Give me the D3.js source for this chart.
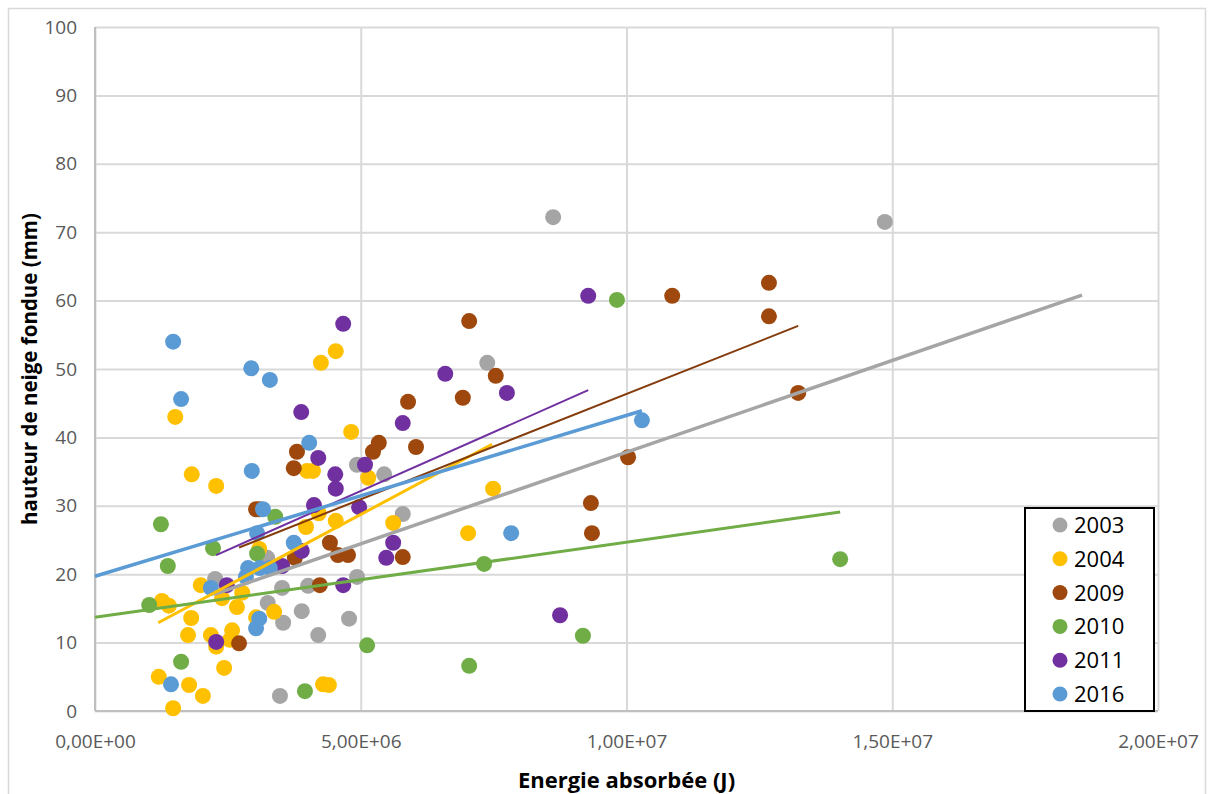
<!DOCTYPE html>
<html>
<head>
<meta charset="utf-8">
<script src="https://cdn.jsdelivr.net/npm/d3@7"></script>
<style>
  body { margin: 0; background: #fff; }
  text { font-family: "Open Sans", "Noto Sans", sans-serif; }
</style>
</head>
<body>
<div id="chart"></div>
<script>
// series names and colours (legend order)
var years = ["2003", "2004", "2009", "2010", "2011", "2016"];
var colors = ["#a5a5a5", "#ffc000", "#9e480e", "#70ad47", "#7030a0", "#5b9bd5"];
var lineColors = ["#a5a5a5", "#ffc000", "#843c0c", "#70ad47", "#7030a0", "#5b9bd5"];

// energie absorbee (J) / hauteur de neige fondue (mm)
var x2003 = [8.62e6, 14.86e6, 7.38e6, 4.93e6, 5.44e6, 5.79e6, 3.24e6, 2.26e6, 4.93e6, 3.52e6, 4.01e6, 3.25e6, 3.89e6, 4.78e6, 3.54e6, 4.20e6, 3.48e6];
var y2003 = [72.2, 71.5, 50.9, 36.0, 34.6, 28.8, 22.4, 19.3, 19.6, 18.0, 18.3, 15.8, 14.6, 13.5, 12.9, 11.1, 2.2];

var x2004 = [1.51e6, 1.82e6, 2.28e6, 4.25e6, 4.53e6, 4.82e6, 3.99e6, 4.10e6, 5.14e6, 4.21e6, 3.97e6, 4.53e6, 3.09e6, 1.99e6, 2.39e6, 2.77e6, 1.26e6, 1.39e6, 1.81e6, 2.67e6, 1.75e6, 2.18e6, 2.58e6, 2.54e6, 2.28e6, 2.43e6, 1.20e6, 1.77e6, 2.03e6, 1.47e6, 3.03e6, 3.37e6, 4.29e6, 4.40e6, 5.61e6, 7.02e6, 7.49e6];
var y2004 = [43.0, 34.6, 32.9, 50.9, 52.6, 40.8, 35.1, 35.1, 34.1, 28.9, 26.9, 27.8, 23.7, 18.4, 16.5, 17.3, 16.1, 15.4, 13.6, 15.2, 11.1, 11.1, 11.8, 10.4, 9.4, 6.3, 5.0, 3.8, 2.2, 0.4, 13.7, 14.5, 3.9, 3.8, 27.5, 26.0, 32.5];

var x2009 = [7.04e6, 6.92e6, 5.89e6, 6.04e6, 5.23e6, 5.34e6, 3.80e6, 3.74e6, 7.54e6, 3.03e6, 3.10e6, 4.42e6, 3.76e6, 4.57e6, 4.76e6, 4.23e6, 5.79e6, 2.71e6, 9.33e6, 9.35e6, 10.03e6, 10.86e6, 12.68e6, 12.68e6, 13.23e6];
var y2009 = [57.0, 45.8, 45.2, 38.6, 37.9, 39.2, 37.9, 35.5, 49.0, 29.5, 29.5, 24.6, 22.4, 22.8, 22.8, 18.4, 22.5, 9.9, 30.4, 26.0, 37.1, 60.7, 62.6, 57.7, 46.5];

var x2010 = [1.24e6, 2.22e6, 1.37e6, 1.02e6, 1.62e6, 3.05e6, 3.39e6, 3.95e6, 5.12e6, 7.04e6, 7.32e6, 9.18e6, 9.82e6, 14.02e6];
var y2010 = [27.3, 23.8, 21.2, 15.5, 7.2, 23.0, 28.4, 2.9, 9.6, 6.6, 21.5, 11.0, 60.1, 22.2];

var x2011 = [4.67e6, 3.88e6, 4.20e6, 4.52e6, 4.53e6, 4.12e6, 4.97e6, 5.08e6, 3.89e6, 3.52e6, 4.67e6, 2.48e6, 2.28e6, 5.79e6, 6.59e6, 7.75e6, 5.61e6, 5.48e6, 8.75e6, 9.28e6];
var y2011 = [56.6, 43.7, 37.0, 34.6, 32.5, 30.1, 29.8, 36.0, 23.4, 21.2, 18.4, 18.4, 10.1, 42.1, 49.3, 46.5, 24.6, 22.4, 14.0, 60.7];

var x2016 = [1.47e6, 1.62e6, 2.94e6, 3.29e6, 4.03e6, 2.95e6, 3.16e6, 3.05e6, 3.74e6, 2.88e6, 3.10e6, 3.29e6, 2.84e6, 2.18e6, 3.09e6, 3.03e6, 1.43e6, 7.83e6, 10.29e6];
var y2016 = [54.0, 45.6, 50.1, 48.4, 39.2, 35.1, 29.5, 26.0, 24.6, 20.9, 20.9, 20.9, 19.6, 18.0, 13.5, 12.1, 3.9, 26.0, 42.5];

// linear trend lines as drawn: [x start, y start, x end, y end]
var trends = [
  [2.24e6, 17.05, 18.57e6, 60.8],
  [1.19e6, 12.9, 7.47e6, 39.0],
  [2.71e6, 23.9, 13.23e6, 56.3],
  [0, 13.7, 14.02e6, 29.1],
  [2.28e6, 22.8, 9.28e6, 46.9],
  [0, 19.7, 10.29e6, 43.9]
];
var trendWidths = [3.5, 3, 2, 3, 2, 3.5];

var xTicks = [0, 5e6, 1e7, 1.5e7, 2e7];
var yTicks = [0, 10, 20, 30, 40, 50, 60, 70, 80, 90, 100];

var xs = [x2003, x2004, x2009, x2010, x2011, x2016];
var ys = [y2003, y2004, y2009, y2010, y2011, y2016];

var width = 1210, height = 794;
var plotLeft = 95, plotRight = 1158, plotTop = 27, plotBottom = 711;

var svg = d3.select("#chart").append("svg")
    .attr("width", width)
    .attr("height", height);

// chart frame
svg.append("rect")
    .attr("x", 8.5).attr("y", 8.5)
    .attr("width", 1197).attr("height", 800)
    .attr("fill", "none")
    .attr("stroke", "#d9d9d9")
    .attr("stroke-width", 1.5);

// title (cut off at the top of the picture)
svg.append("text")
    .attr("x", 630).attr("y", -7)
    .attr("text-anchor", "middle")
    .attr("font-size", 24)
    .attr("fill", "#4a86c8")
    .text("Hauteur de neige fondue en fonction de l'énergie absorbée");

var x = d3.scaleLinear().domain([0, 2e7]).range([plotLeft, plotRight]);
var y = d3.scaleLinear().domain([0, 100]).range([plotBottom, plotTop]);

function sci(v) {
    if (v === 0) return "0,00E+00";
    var e = Math.floor(Math.log10(v));
    var m = v / Math.pow(10, e);
    return m.toFixed(2).replace(".", ",") + "E+" + (e < 10 ? "0" + e : e);
}

// gridlines
svg.append("g")
    .attr("transform", "translate(" + plotLeft + ",0)")
    .call(d3.axisLeft(y).tickValues(yTicks).tickSize(-(plotRight - plotLeft)).tickFormat(""))
    .call(function(g) { g.select(".domain").remove(); })
    .selectAll("line").attr("stroke", "#d9d9d9").attr("stroke-width", 2);

svg.append("g")
    .attr("transform", "translate(0," + plotBottom + ")")
    .call(d3.axisBottom(x).tickValues(xTicks).tickSize(-(plotBottom - plotTop)).tickFormat(""))
    .call(function(g) { g.select(".domain").remove(); })
    .selectAll("line").attr("stroke", "#d9d9d9").attr("stroke-width", 2);

// axis lines
svg.append("line")
    .attr("x1", plotLeft).attr("x2", plotLeft).attr("y1", plotTop).attr("y2", plotBottom)
    .attr("stroke", "#bfbfbf").attr("stroke-width", 2);
svg.append("line")
    .attr("x1", plotLeft).attr("x2", plotRight).attr("y1", plotBottom).attr("y2", plotBottom)
    .attr("stroke", "#bfbfbf").attr("stroke-width", 2);

// tick labels
var yAxis = svg.append("g")
    .attr("transform", "translate(" + plotLeft + ",0)")
    .call(d3.axisLeft(y).tickValues(yTicks).tickSize(0).tickPadding(18));
yAxis.select(".domain").remove();
yAxis.selectAll("text")
    .attr("font-size", 19).attr("fill", "#595959")
    .style("font-family", "'Open Sans', sans-serif");

var xAxis = svg.append("g")
    .attr("transform", "translate(0," + plotBottom + ")")
    .call(d3.axisBottom(x).tickValues(xTicks).tickSize(0).tickPadding(24).tickFormat(sci));
xAxis.select(".domain").remove();
xAxis.selectAll("text")
    .attr("font-size", 19).attr("fill", "#595959")
    .style("font-family", "'Open Sans', sans-serif");

// axis titles
svg.append("text")
    .attr("transform", "translate(37," + ((plotTop + plotBottom) / 2) + ") rotate(-90)")
    .attr("text-anchor", "middle")
    .attr("font-size", 20.5)
    .attr("font-weight", "bold")
    .attr("fill", "#000")
    .text("hauteur de neige fondue (mm)");

svg.append("text")
    .attr("x", (plotLeft + plotRight) / 2).attr("y", 788)
    .attr("text-anchor", "middle")
    .attr("font-size", 22)
    .attr("font-weight", "bold")
    .attr("fill", "#000")
    .text("Energie absorbée (J)");

// points
years.forEach(function(yr, i) {
    var pts = xs[i].map(function(v, j) { return [v, ys[i][j]]; });
    svg.append("g").selectAll("circle")
        .data(pts)
        .enter().append("circle")
        .attr("cx", function(d) { return x(d[0]); })
        .attr("cy", function(d) { return y(d[1]); })
        .attr("r", 8)
        .attr("fill", colors[i]);
});

// trend lines
trends.forEach(function(t, i) {
    svg.append("line")
        .attr("x1", x(t[0])).attr("y1", y(t[1]))
        .attr("x2", x(t[2])).attr("y2", y(t[3]))
        .attr("stroke", lineColors[i])
        .attr("stroke-width", trendWidths[i]);
});

// legend
var legend = svg.append("g");
legend.append("rect")
    .attr("x", 1025).attr("y", 508)
    .attr("width", 129).attr("height", 203)
    .attr("fill", "#fff")
    .attr("stroke", "#000")
    .attr("stroke-width", 2);

var item = legend.selectAll("g.item")
    .data(years)
    .enter().append("g")
    .attr("class", "item")
    .attr("transform", function(d, i) { return "translate(1060," + (525 + i * 33.8) + ")"; });

item.append("circle")
    .attr("r", 7.5)
    .attr("fill", function(d, i) { return colors[i]; });

item.append("text")
    .attr("x", 14).attr("y", 8)
    .attr("font-size", 22)
    .attr("fill", "#000")
    .text(function(d) { return d; });
</script>
</body>
</html>
